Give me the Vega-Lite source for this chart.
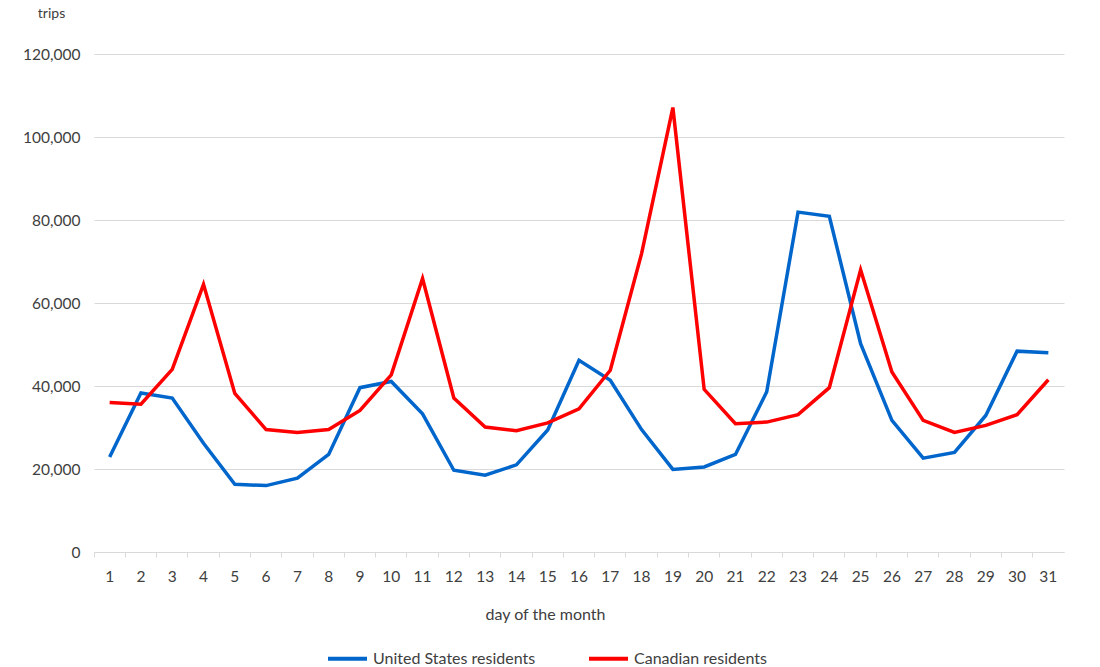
{
  "$schema": "https://vega.github.io/schema/vega-lite/v6.json",
  "autosize": "none",
  "padding": {"left": 94, "top": 54, "right": 36, "bottom": 115},
  "width": 970,
  "height": 498,
  "background": "white",
  "config": {
    "view": {"stroke": null},
    "font": "Lato"
  },
  "data": {
    "values": [
      {"day": 1, "series": "United States residents", "trips": 22900},
      {"day": 2, "series": "United States residents", "trips": 38300},
      {"day": 3, "series": "United States residents", "trips": 37100},
      {"day": 4, "series": "United States residents", "trips": 26200},
      {"day": 5, "series": "United States residents", "trips": 16300},
      {"day": 6, "series": "United States residents", "trips": 16000},
      {"day": 7, "series": "United States residents", "trips": 17800},
      {"day": 8, "series": "United States residents", "trips": 23500},
      {"day": 9, "series": "United States residents", "trips": 39600},
      {"day": 10, "series": "United States residents", "trips": 41100},
      {"day": 11, "series": "United States residents", "trips": 33300},
      {"day": 12, "series": "United States residents", "trips": 19700},
      {"day": 13, "series": "United States residents", "trips": 18500},
      {"day": 14, "series": "United States residents", "trips": 21000},
      {"day": 15, "series": "United States residents", "trips": 29400},
      {"day": 16, "series": "United States residents", "trips": 46200},
      {"day": 17, "series": "United States residents", "trips": 41400},
      {"day": 18, "series": "United States residents", "trips": 29500},
      {"day": 19, "series": "United States residents", "trips": 19900},
      {"day": 20, "series": "United States residents", "trips": 20500},
      {"day": 21, "series": "United States residents", "trips": 23500},
      {"day": 22, "series": "United States residents", "trips": 38600},
      {"day": 23, "series": "United States residents", "trips": 81900},
      {"day": 24, "series": "United States residents", "trips": 80900},
      {"day": 25, "series": "United States residents", "trips": 50200},
      {"day": 26, "series": "United States residents", "trips": 31700},
      {"day": 27, "series": "United States residents", "trips": 22600},
      {"day": 28, "series": "United States residents", "trips": 24000},
      {"day": 29, "series": "United States residents", "trips": 32900},
      {"day": 30, "series": "United States residents", "trips": 48400},
      {"day": 31, "series": "United States residents", "trips": 48000},
      {"day": 1, "series": "Canadian residents", "trips": 36000},
      {"day": 2, "series": "Canadian residents", "trips": 35600},
      {"day": 3, "series": "Canadian residents", "trips": 44000},
      {"day": 4, "series": "Canadian residents", "trips": 64500},
      {"day": 5, "series": "Canadian residents", "trips": 38200},
      {"day": 6, "series": "Canadian residents", "trips": 29500},
      {"day": 7, "series": "Canadian residents", "trips": 28800},
      {"day": 8, "series": "Canadian residents", "trips": 29500},
      {"day": 9, "series": "Canadian residents", "trips": 34100},
      {"day": 10, "series": "Canadian residents", "trips": 42700},
      {"day": 11, "series": "Canadian residents", "trips": 65900},
      {"day": 12, "series": "Canadian residents", "trips": 37100},
      {"day": 13, "series": "Canadian residents", "trips": 30100},
      {"day": 14, "series": "Canadian residents", "trips": 29200},
      {"day": 15, "series": "Canadian residents", "trips": 31100},
      {"day": 16, "series": "Canadian residents", "trips": 34500},
      {"day": 17, "series": "Canadian residents", "trips": 43800},
      {"day": 18, "series": "Canadian residents", "trips": 71900},
      {"day": 19, "series": "Canadian residents", "trips": 107100},
      {"day": 20, "series": "Canadian residents", "trips": 39200},
      {"day": 21, "series": "Canadian residents", "trips": 30900},
      {"day": 22, "series": "Canadian residents", "trips": 31300},
      {"day": 23, "series": "Canadian residents", "trips": 33100},
      {"day": 24, "series": "Canadian residents", "trips": 39600},
      {"day": 25, "series": "Canadian residents", "trips": 68000},
      {"day": 26, "series": "Canadian residents", "trips": 43400},
      {"day": 27, "series": "Canadian residents", "trips": 31700},
      {"day": 28, "series": "Canadian residents", "trips": 28800},
      {"day": 29, "series": "Canadian residents", "trips": 30500},
      {"day": 30, "series": "Canadian residents", "trips": 33100},
      {"day": 31, "series": "Canadian residents", "trips": 41500}
    ]
  },
  "mark": {"type": "line", "strokeWidth": 3.5},
  "encoding": {
    "x": {
      "field": "day",
      "type": "ordinal",
      "sort": "ascending",
      "scale": {"type": "band", "paddingInner": 0, "paddingOuter": 0},
      "title": "day of the month",
      "axis": {
        "bandPosition": 0,
        "labelAngle": 0,
        "grid": false,
        "domainColor": "#d9d9d9",
        "tickColor": "#d9d9d9",
        "tickSize": 5,
        "labelPadding": 12,
        "labelFontSize": 15.5,
        "labelColor": "#404040",
        "titleFontSize": 16,
        "titleFontWeight": "normal",
        "titleColor": "#404040",
        "titleX": 451,
        "titleAlign": "center",
        "titlePadding": 22
      }
    },
    "y": {
      "field": "trips",
      "type": "quantitative",
      "scale": {"domain": [0, 120000]},
      "title": "trips",
      "axis": {
        "values": [0, 20000, 40000, 60000, 80000, 100000, 120000],
        "format": ",.0f",
        "domain": false,
        "ticks": false,
        "gridColor": "#d9d9d9",
        "labelPadding": 14,
        "labelFontSize": 15.5,
        "labelColor": "#404040",
        "titleAngle": 0,
        "titleAlign": "center",
        "titleBaseline": "middle",
        "titleX": -43,
        "titleY": -41,
        "titleFontSize": 14,
        "titleFontWeight": "normal",
        "titleColor": "#404040"
      }
    },
    "color": {
      "field": "series",
      "type": "nominal",
      "sort": ["United States residents", "Canadian residents"],
      "scale": {
        "domain": ["United States residents", "Canadian residents"],
        "range": ["#0066cc", "#ff0000"]
      },
      "legend": {
        "title": null,
        "orient": "none",
        "direction": "horizontal",
        "legendX": 232,
        "legendY": 583,
        "padding": 0,
        "symbolType": "stroke",
        "symbolSize": 1521,
        "symbolStrokeWidth": 4,
        "labelOffset": 4,
        "labelFontSize": 16,
        "labelLimit": 400,
        "labelColor": "#404040",
        "columnPadding": 45
      }
    }
  }
}
